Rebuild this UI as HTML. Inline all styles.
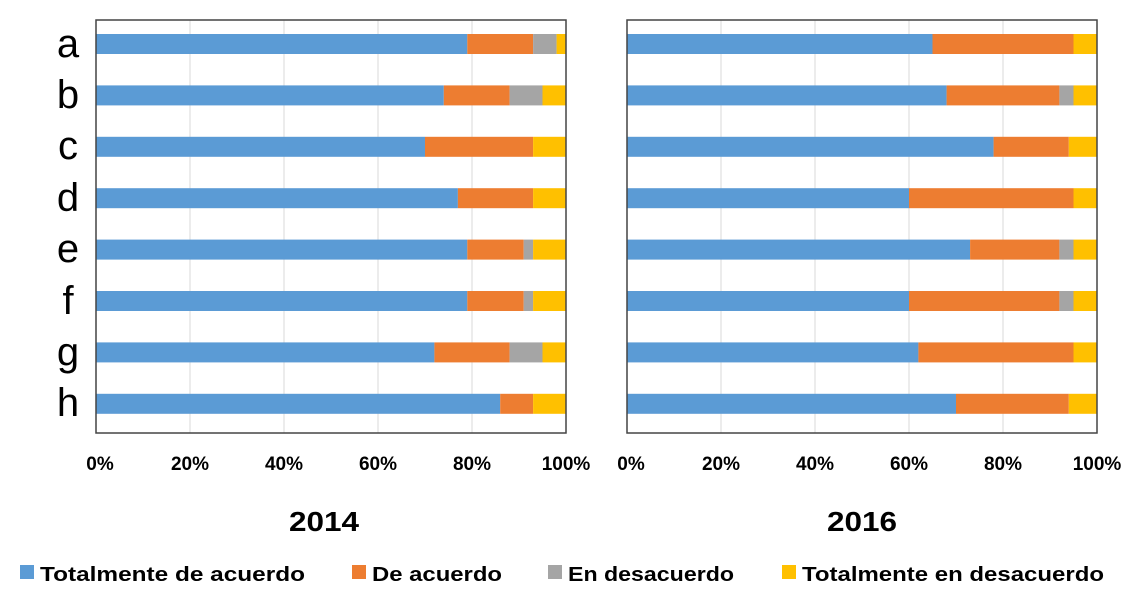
<!DOCTYPE html><html><head><style>body{margin:0;background:#fff;width:1148px;height:595px;overflow:hidden}</style></head><body>
<svg width="1148" height="595" xmlns="http://www.w3.org/2000/svg" font-family="Liberation Sans, sans-serif">
<g id="grid" stroke="#d9d9d9" stroke-width="1">
<line x1="190" y1="20" x2="190" y2="433"/><line x1="284" y1="20" x2="284" y2="433"/><line x1="378" y1="20" x2="378" y2="433"/><line x1="472" y1="20" x2="472" y2="433"/>
<line x1="721" y1="20" x2="721" y2="433"/><line x1="815" y1="20" x2="815" y2="433"/><line x1="909" y1="20" x2="909" y2="433"/><line x1="1003" y1="20" x2="1003" y2="433"/>
</g>
<g id="bars"></g>
<rect x="96" y="20" width="470" height="413" fill="none" stroke="#444" stroke-width="1.5"/>
<rect x="627" y="20" width="470" height="413" fill="none" stroke="#444" stroke-width="1.5"/>
<g font-size="40" text-anchor="middle" fill="#000">
<text x="68" y="57">a</text><text x="68" y="108">b</text><text x="68" y="159">c</text><text x="68" y="211">d</text><text x="68" y="262">e</text><text x="68" y="314">f</text><text x="68" y="365">g</text><text x="68" y="416">h</text>
</g>
<g font-size="19" font-weight="bold" text-anchor="middle" fill="#000">
<text x="100" y="470">0%</text><text x="190" y="470">20%</text><text x="284" y="470">40%</text><text x="378" y="470">60%</text><text x="472" y="470">80%</text><text x="566" y="470">100%</text>
<text x="631" y="470">0%</text><text x="721" y="470">20%</text><text x="815" y="470">40%</text><text x="909" y="470">60%</text><text x="1003" y="470">80%</text><text x="1097" y="470">100%</text>
</g>
<g font-size="28" font-weight="bold" text-anchor="middle"><text x="324" y="531" textLength="70" lengthAdjust="spacingAndGlyphs">2014</text><text x="862" y="531" textLength="70" lengthAdjust="spacingAndGlyphs">2016</text></g>
<g font-size="20" font-weight="bold">
<rect x="20" y="565" width="14" height="14" fill="#5b9bd5"/><text x="40" y="581" textLength="265" lengthAdjust="spacingAndGlyphs">Totalmente de acuerdo</text>
<rect x="352" y="565" width="14" height="14" fill="#ed7d31"/><text x="372" y="581" textLength="130" lengthAdjust="spacingAndGlyphs">De acuerdo</text>
<rect x="548" y="565" width="14" height="14" fill="#a5a5a5"/><text x="568" y="581" textLength="166" lengthAdjust="spacingAndGlyphs">En desacuerdo</text>
<rect x="782" y="565" width="14" height="14" fill="#ffc000"/><text x="802" y="581" textLength="302" lengthAdjust="spacingAndGlyphs">Totalmente en desacuerdo</text>
</g>
</svg>
<script>
var L=[[79,14,5,2],[74,14,7,5],[70,23,0,7],[77,16,0,7],[79,12,2,7],[79,12,2,7],[72,16,7,5],[86,7,0,7]];
var R=[[65,30,0,5],[68,24,3,5],[78,16,0,6],[60,35,0,5],[73,19,3,5],[60,32,3,5],[62,33,0,5],[70,24,0,6]];
var C=["#5b9bd5","#ed7d31","#a5a5a5","#ffc000"],g=document.getElementById("bars"),s="";
function d(D,x0){D.forEach(function(r,i){var x=x0,y=34+i*51.4;r.forEach(function(v,j){var w=v*4.7;if(w>0)s+='<rect x="'+x+'" y="'+y+'" width="'+w+'" height="20" fill="'+C[j]+'"/>';x+=w;});});}
d(L,96);d(R,627);g.innerHTML=s;
</script>
</body></html>
